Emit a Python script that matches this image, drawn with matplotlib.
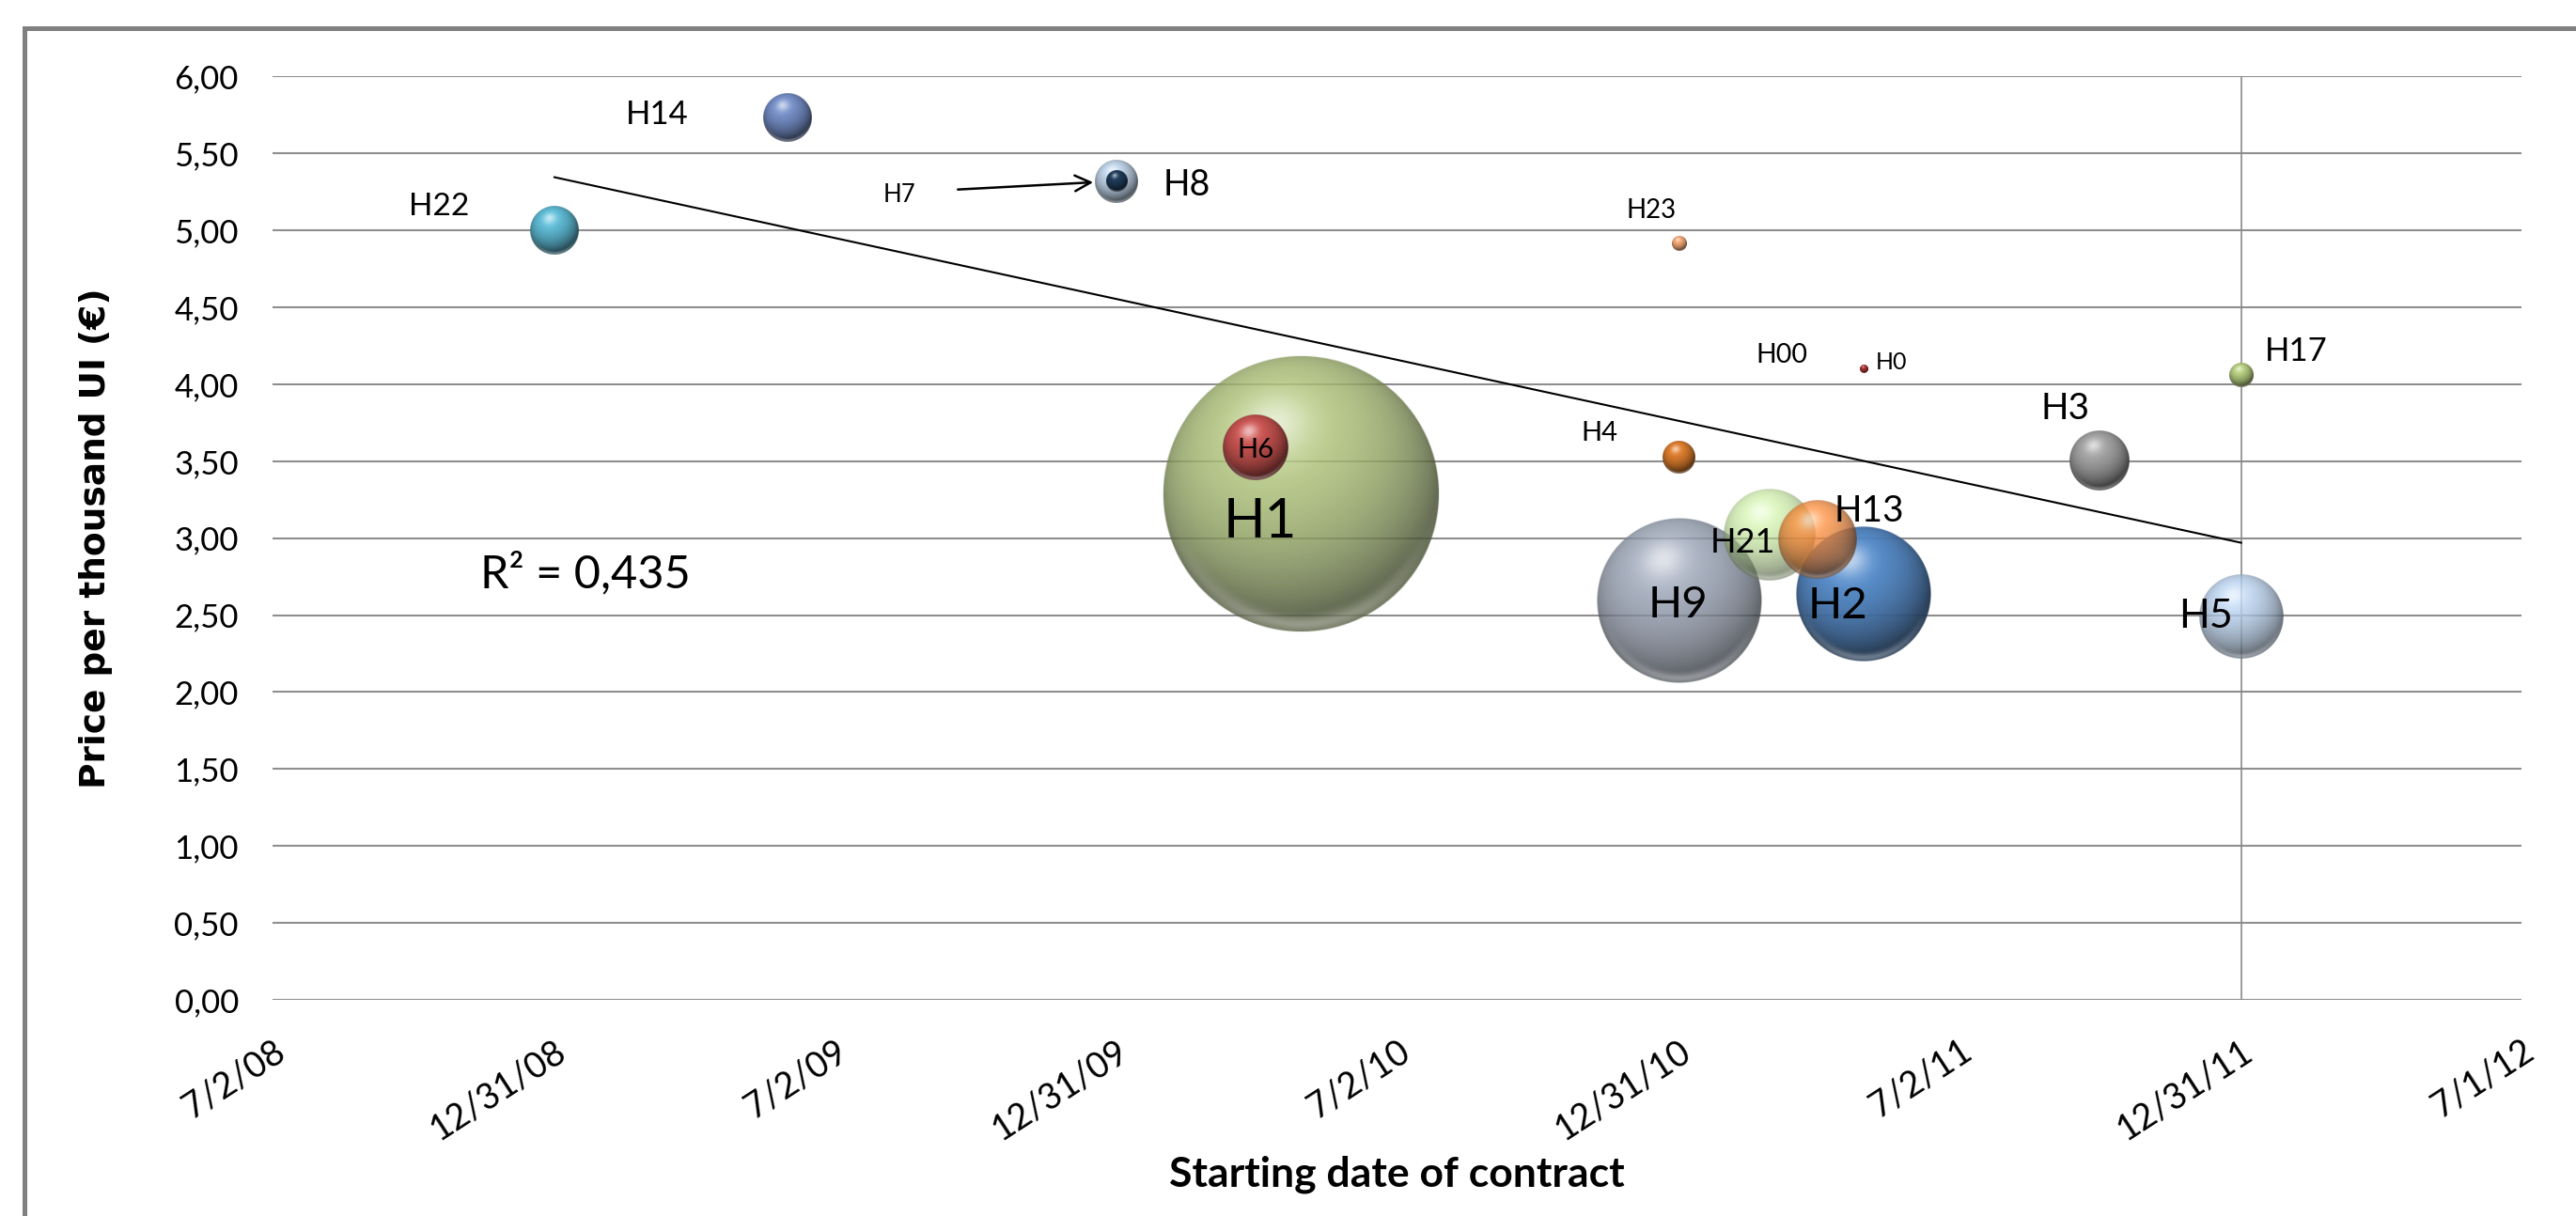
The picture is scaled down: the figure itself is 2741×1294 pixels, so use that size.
import numpy as np
import matplotlib
matplotlib.use("Agg")
import matplotlib.pyplot as plt
import matplotlib.dates as mdates
from matplotlib.colors import to_rgb
from matplotlib.patches import Rectangle
from datetime import date

# ---- data ----
names = ["H1", "H9", "H2", "H21", "H5", "H13", "H6", "H3", "H22", "H14",
         "H8", "H4", "H17", "H7", "H23", "H0"]
start_dates = ["2010-05-01", "2011-01-01", "2011-05-01", "2011-03-01", "2012-01-01",
               "2011-04-01", "2010-04-01", "2011-10-01", "2009-01-01", "2009-06-01",
               "2010-01-01", "2011-01-01", "2012-01-01", "2010-01-01", "2011-01-01",
               "2011-05-01"]
prices = [3.29, 2.59, 2.64, 3.02, 2.49, 2.99, 3.59, 3.50, 5.00, 5.73,
          5.32, 3.52, 4.06, 5.32, 4.91, 4.10]
bubble_sizes = [100, 35.2, 23.8, 11.0, 9.3, 8.1, 5.5, 4.6, 3.1, 3.0,
                2.4, 1.33, 0.72, 0.56, 0.26, 0.074]

trend_dates = ["2009-01-01", "2012-01-01"]
trend_values = [5.345, 2.97]
r2_text = "R² = 0,435"

x_tick_labels = ["7/2/08", "12/31/08", "7/2/09", "12/31/09", "7/2/10",
                 "12/31/10", "7/2/11", "12/31/11", "7/1/12"]
y_ticks = np.arange(0, 6.01, 0.5)
marker_line_date = "2012-01-01"

# ---- styles ----
colors = {"H1": "#A4B870", "H9": "#8F99AB", "H2": "#4B80BE", "H21": "#BDE391",
          "H5": "#ADC6E3", "H13": "#F2883A", "H6": "#C0504D", "H3": "#9C9C9C",
          "H22": "#5BB3CC", "H14": "#7189BF", "H8": "#B7CBDF", "H4": "#D2772B",
          "H17": "#AEC57A", "H7": "#1E3855", "H23": "#EBA272", "H0": "#A33030"}
alphas = {"H1": 0.82, "H9": 0.8, "H2": 0.95, "H21": 0.62, "H5": 0.8, "H13": 0.78}
# label offset from bubble centre in pixels (dx, dy up) and font size
labels = {"H1": (-44, -27, 42), "H9": (-1, -1, 34), "H2": (-28, -10, 34),
          "H21": (-29, -6, 26), "H5": (-38, 3, 31), "H13": (55, 32, 28),
          "H6": (0, -1, 21), "H3": (-36, 58, 28), "H22": (-123, 27, 24),
          "H14": (-138, 5, 25), "H8": (75, -3, 27), "H4": (-85, 28, 21),
          "H17": (59, 27, 25), "H7": (-231, -14, 18.5), "H23": (-29, 37, 20),
          "H0": (29, 8, 18)}
FONT = "Lato"
W, H = 2741, 1294
MAX_DIAM = 295  # pixel diameter of the largest bubble


def sphere(color, alpha, n=320):
    u = np.linspace(-1, 1, n)
    U, V = np.meshgrid(u, -u)
    rho = np.sqrt(U ** 2 + V ** 2)
    nz = np.sqrt(np.clip(1 - rho ** 2, 0, 1))
    L = np.array([-0.2, 0.5, 0.84])
    L = L / np.linalg.norm(L)
    diff = np.clip(U * L[0] + V * L[1] + nz * L[2], 0, 1)
    base = np.array(to_rgb(color))
    rgb = base[None, None, :] * (0.42 + 0.68 * diff)[..., None]
    spec = 0.6 * diff ** 30
    rgb = rgb + spec[..., None] * (1 - rgb)
    refl = 0.35 * np.exp(-(rho - 0.94) ** 2 / 0.003) * np.clip(-V, 0, 1) ** 2
    rgb = rgb + refl[..., None] * (1 - rgb)
    rgb = np.clip(rgb, 0, 1)
    a = np.clip((1 - rho) * n / 2, 0, 1) * alpha
    return np.dstack([rgb, a])


fig = plt.figure(figsize=(W / 100, H / 100), dpi=100)
ax = fig.add_axes([290 / W, (H - 1064) / H, (2683 - 290) / W, (1064 - 81.3) / H])

xmin = mdates.date2num(date(2008, 7, 2))
xmax = xmin + 1460
ax.set_xlim(xmin, xmax)
ax.set_ylim(0, 6)
ax.set_autoscale_on(False)

ax.set_xticks(xmin + 182.5 * np.arange(len(x_tick_labels)))
ax.set_xticklabels(x_tick_labels, rotation=33, ha="right", va="top",
                   rotation_mode="anchor", fontsize=27, family=FONT)
ax.set_yticks(y_ticks)
ax.set_yticklabels([f"{v:.2f}".replace(".", ",") for v in y_ticks],
                   fontsize=25, family=FONT)
ax.tick_params(axis="y", length=0, pad=26)
ax.tick_params(axis="x", length=0, pad=26)
for s in ax.spines.values():
    s.set_visible(False)
ax.yaxis.grid(True, color="#8e8e8e", lw=1.5)
ax.set_axisbelow(True)

ax.axvline(mdates.datestr2num(marker_line_date), color="#8a8a8a", lw=1.2, zorder=1)

xs = mdates.datestr2num(start_dates)
for i, name in enumerate(names):
    cx, cy = ax.transData.transform((xs[i], prices[i]))
    r = MAX_DIAM * np.sqrt(bubble_sizes[i] / max(bubble_sizes)) / 2
    inv = ax.transData.inverted()
    x0, y0 = inv.transform((cx - r, cy - r))
    x1, y1 = inv.transform((cx + r, cy + r))
    img = sphere(colors[name], alphas.get(name, 1.0))
    ax.imshow(img, extent=(x0, x1, y0, y1), aspect="auto",
              interpolation="bilinear", zorder=2 + i)

ax.plot(mdates.datestr2num(trend_dates), trend_values, color="black", lw=1.5, zorder=30)

k = 0.72  # px -> points
for i, name in enumerate(names):
    dx, dy, fs = labels[name]
    ax.annotate(name, (xs[i], prices[i]), xytext=(dx * k, (dy - fs * 0.47) * k),
                textcoords="offset points", ha="center", va="baseline",
                fontsize=fs, family=FONT, zorder=40)

i0 = names.index("H0")
ax.annotate("H00", (xs[i0], prices[i0]), xytext=(-87 * k, (16 - 10) * k),
            textcoords="offset points", ha="center", va="baseline",
            fontsize=20.5, family=FONT, zorder=40)

i7 = names.index("H7")
ax.annotate("", (xs[i7], prices[i7]), xytext=(-169 * k, -9 * k),
            textcoords="offset points",
            arrowprops=dict(arrowstyle="->", lw=1.8, color="black",
                            shrinkA=0, shrinkB=25 * k, mutation_scale=30),
            zorder=41)

ax.text(0.139, 0.462, r2_text, transform=ax.transAxes, ha="center", va="center",
        fontsize=35, family=FONT)

fig.text(1486 / W, 1 - 1250 / H, "Starting date of contract", ha="center",
         va="center", fontsize=32, fontweight="bold", family=FONT)
fig.text(102 / W, 1 - 572.5 / H, "Price per thousand UI (€)", ha="center",
         va="center", rotation=90, fontsize=27, fontweight="bold",
         family="DejaVu Sans")

fig.add_artist(Rectangle((26 / W, -0.1), 1.2, (H - 29.5) / H + 0.1,
                         transform=fig.transFigure, fill=False,
                         edgecolor="#808080", lw=3.6))

fig.savefig("out.png", dpi=100)
